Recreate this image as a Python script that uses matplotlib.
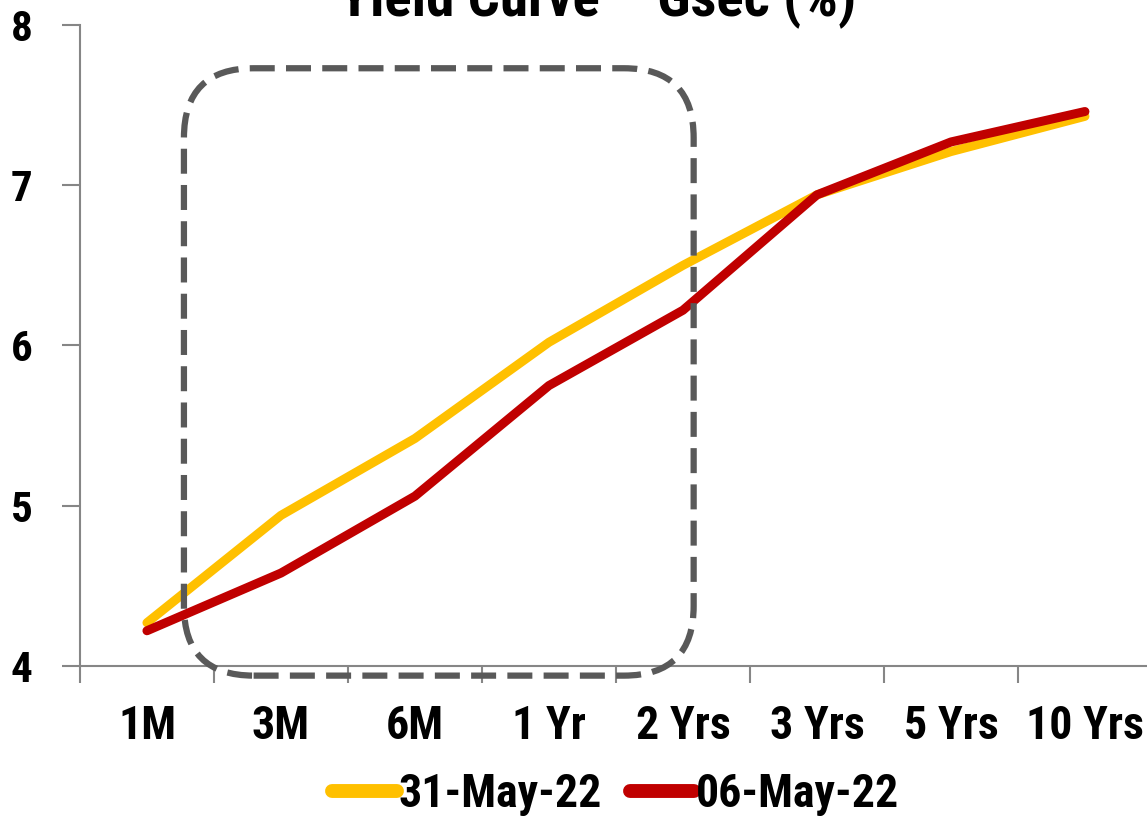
import matplotlib
matplotlib.use("Agg")
import matplotlib.pyplot as plt
from matplotlib.patches import FancyBboxPatch

# tenors and yields (%)
tenors = ["1M", "3M", "6M", "1 Yr", "2 Yrs", "3 Yrs", "5 Yrs", "10 Yrs"]
yield_31may = [4.27, 4.94, 5.42, 6.02, 6.50, 6.94, 7.21, 7.43]
yield_06may = [4.22, 4.58, 5.06, 5.75, 6.22, 6.94, 7.27, 7.46]

plt.rcParams['font.family'] = ['Roboto Condensed', 'DejaVu Sans']
plt.rcParams['font.weight'] = 'bold'

fig = plt.figure(figsize=(11.47, 8.19), dpi=100)
ax = fig.add_axes([0.0697, 0.1868, 0.9346, 0.7827])

x = range(len(tenors))
ax.plot(x, yield_31may, color='#FFC000', lw=6.5, solid_capstyle='round', label='31-May-22')
ax.plot(x, yield_06may, color='#C00000', lw=6.5, solid_capstyle='round', label='06-May-22')

ax.set_xlim(-0.5, len(tenors) - 0.5)
ax.set_ylim(4, 8)
ax.set_yticks([4, 5, 6, 7, 8])
ax.set_xticks([i + 0.5 for i in range(-1, len(tenors))])
ax.set_xticklabels([])
ax.set_xticks(list(x), minor=True)
ax.set_xticklabels(tenors, minor=True)
ax.tick_params(axis='x', which='minor', length=0, pad=27, labelsize=33)
ax.tick_params(axis='x', which='major', length=12, width=1.5, color='#868686', direction='out')
ax.tick_params(axis='y', length=13, width=1.5, color='#868686', pad=21, labelsize=31)
for lbl in ax.get_yticklabels() + ax.get_xticklabels(minor=True):
    lbl.set_fontweight('bold')

for side in ['top', 'right']:
    ax.spines[side].set_visible(False)
for side in ['left', 'bottom']:
    ax.spines[side].set_color('#868686')
    ax.spines[side].set_linewidth(1.5)

# highlight box around the short end
box = FancyBboxPatch((0.276, 3.94), 4.08 - 0.276, 7.73 - 3.94,
                     boxstyle="round,pad=0,rounding_size=0.52",
                     mutation_aspect=0.836, fill=False, edgecolor='#595959',
                     lw=4.5, linestyle=(0, (4, 1.8)), clip_on=False, zorder=3)
ax.add_patch(box)

fig.text(0.521, 1 - 16 / 819, "Yield Curve \u2013 Gsec (%)", ha='center', va='baseline',
         fontsize=41, fontweight='bold')

leg = fig.legend(loc='center', bbox_to_anchor=(0.537, 1 - 794 / 819), ncol=2, frameon=False,
                 handlelength=1.4, handletextpad=0.05, columnspacing=0.6, borderpad=0,
                 prop={'weight': 'bold', 'size': 33})
for h in leg.get_lines():
    h.set_linewidth(10)
    h.set_solid_capstyle('round')

fig.savefig("out.png", dpi=100)
